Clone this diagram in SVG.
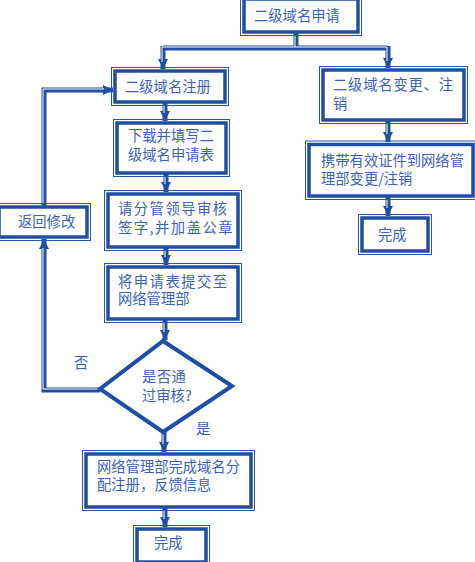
<svg xmlns="http://www.w3.org/2000/svg" width="475" height="562" viewBox="0 0 475 562">
<style>
.box{fill:#fff;stroke:#1f4fa2;stroke-width:3.5}
.outer{fill:none;stroke:#2a58a8;stroke-width:1}
.t{font-family:"Noto Sans CJK SC","Noto Sans",sans-serif;font-size:14.3px;fill:#3a63b8}
.ln{fill:none;stroke:#1f4fa2;stroke-width:5}
.hl{fill:none;stroke:#fff;stroke-width:1}
</style>
<defs>
<marker id="ar" markerUnits="userSpaceOnUse" markerWidth="11" markerHeight="11" refX="10" refY="5.5" orient="auto">
<path d="M0,0.5 L10,5.5 L0,10.5 z" fill="#1f4fa2"/>
</marker>
</defs>
<rect width="475" height="562" fill="#fff"/>
<g id="connectors">
<path class="ln" d="M296,33 V48"/>
<path class="ln" d="M163,48 H388"/>
<path class="ln" d="M163,46 V69" marker-end="url(#ar)"/>
<path class="ln" d="M388,46 V68" marker-end="url(#ar)"/>
<path class="ln" d="M165,103 V121" marker-end="url(#ar)"/>
<path class="ln" d="M166,174 V192" marker-end="url(#ar)"/>
<path class="ln" d="M166,248 V265" marker-end="url(#ar)"/>
<path class="ln" d="M165,320 V340" marker-end="url(#ar)"/>
<path class="ln" d="M164,432 V452" marker-end="url(#ar)"/>
<path class="ln" d="M165,508 V527" marker-end="url(#ar)"/>
<path class="ln" d="M388,121 V142" marker-end="url(#ar)"/>
<path class="ln" d="M388,197 V216" marker-end="url(#ar)"/>
<path class="ln" d="M100,390 H44 V239" marker-end="url(#ar)"/>
<path class="ln" d="M44,206 V90 H113" marker-end="url(#ar)"/>
<path class="hl" d="M295,35 V47 M162,62 V47 H387 V61 M164,105 V113 M165,176 V184 M165,250 V257 M164,322 V332 M163,434 V444 M164,510 V519 M387,123 V134 M387,199 V208 M99,389 H43 V248 M43,204 V89 H104"/>
</g>
<g id="n_apply">
<rect class="outer" x="240.5" y="-3" width="121" height="38.5"/>
<rect class="box" x="244" y="-1" width="114" height="33"/>
<text class="t" x="254" y="21">二级域名申请</text>
</g>
<g id="n_register">
<rect class="outer" x="111.5" y="67.5" width="117" height="38"/>
<rect class="box" x="115" y="71" width="110" height="31"/>
<text class="t" x="125" y="92">二级域名注册</text>
</g>
<g id="n_change">
<rect class="outer" x="319.5" y="66.5" width="148" height="57"/>
<rect class="box" x="323" y="70" width="141" height="50"/>
<text class="t" x="333" y="90" letter-spacing="0.8">二级域名变更、注</text>
<text class="t" x="333" y="109">销</text>
</g>
<g id="n_carry">
<rect class="outer" x="305.5" y="141" width="171" height="58.5"/>
<rect class="box" x="309" y="144.5" width="164" height="51.5"/>
<text class="t" x="321" y="166">携带有效证件到网络管</text>
<text class="t" x="321" y="184">理部变更/注销</text>
</g>
<g id="n_done_r">
<rect class="outer" x="358.5" y="214.5" width="73" height="40"/>
<rect class="box" x="362" y="218" width="66" height="33"/>
<text class="t" x="378" y="240">完成</text>
</g>
<g id="n_download">
<rect class="outer" x="113.5" y="119.5" width="116" height="57"/>
<rect class="box" x="117" y="123" width="109" height="50"/>
<text class="t" x="128" y="141">下载并填写二</text>
<text class="t" x="128" y="160">级域名申请表</text>
</g>
<g id="n_sign">
<rect class="outer" x="104.5" y="190.5" width="137" height="60"/>
<rect class="box" x="108" y="194" width="130" height="53"/>
<text class="t" x="118" y="214" letter-spacing="1.5">请分管领导审核</text>
<text class="t" x="118" y="233" letter-spacing="1.5">签字,并加盖公章</text>
</g>
<g id="n_submit">
<rect class="outer" x="104.5" y="263.5" width="137" height="59"/>
<rect class="box" x="108" y="267" width="130" height="52"/>
<text class="t" x="118" y="287" letter-spacing="1.5">将申请表提交至</text>
<text class="t" x="118" y="304">网络管理部</text>
</g>
<g id="n_back">
<rect class="outer" x="-3" y="203.5" width="93.5" height="37"/>
<rect class="box" x="-1" y="207" width="88" height="30"/>
<text class="t" x="18" y="227">返回修改</text>
</g>
<g id="n_decision">
<polygon points="163,341 232,386 163,432 100,389" fill="#fff" stroke="#1f4fa2" stroke-width="4" stroke-linejoin="miter"/>
<text class="t" x="142" y="382" letter-spacing="0.5">是否通</text>
<text class="t" x="142" y="401">过审核?</text>
</g>
<text class="t" x="74" y="368">否</text>
<text class="t" x="196" y="434">是</text>
<g id="n_finish_reg">
<rect class="outer" x="82.5" y="450.5" width="172" height="60"/>
<rect class="box" x="86" y="454" width="165" height="53"/>
<text class="t" x="97" y="472">网络管理部完成域名分</text>
<text class="t" x="97" y="490">配注册，反馈信息</text>
</g>
<g id="n_done_l">
<rect class="outer" x="133.5" y="525.5" width="76" height="40"/>
<rect class="box" x="137" y="529" width="69" height="33"/>
<text class="t" x="154" y="548">完成</text>
</g>
</svg>
